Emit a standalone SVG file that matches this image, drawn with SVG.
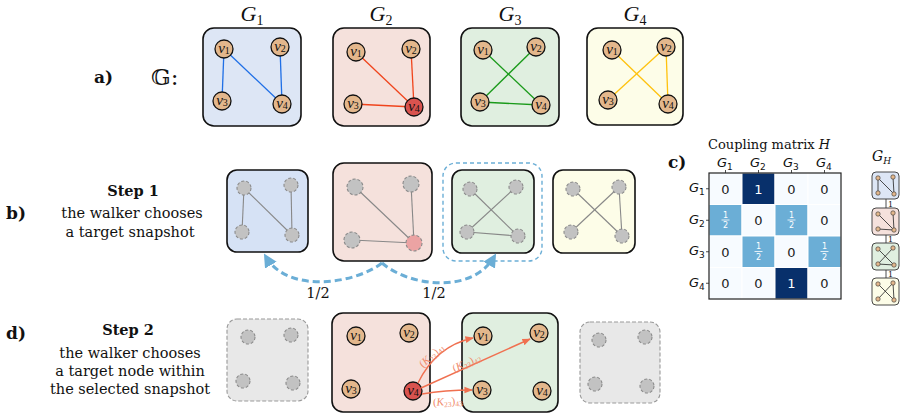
<svg xmlns="http://www.w3.org/2000/svg" width="907" height="419" viewBox="0 0 907 419">
<defs>
<style>
.bg{fill:#fff}
.box{stroke:#111;stroke-width:1.6}
.n{fill:#e3b78c;stroke:#111;stroke-width:1.3}
.n4{fill:#d9534f;stroke:#111;stroke-width:1.3}
.gn{fill:#c2c2c2;stroke:#8a8a8a;stroke-width:1.1;stroke-dasharray:3 2}
.gnp{fill:#eba3a3;stroke:#8a8a8a;stroke-width:1.1;stroke-dasharray:3 2}
.ge{stroke:#888;stroke-width:1.1}
.nl{font-family:"Liberation Serif","DejaVu Serif",serif;font-style:italic;font-size:15px;text-anchor:middle;fill:#111}
.sub{font-size:10px;font-style:normal}
.gl{font-family:"Liberation Serif","DejaVu Serif",serif;font-style:italic;font-size:22px;text-anchor:middle;fill:#111}
.gls{font-size:14px;font-style:normal}
.lab{font-family:"DejaVu Serif","Liberation Serif",serif;font-weight:bold;font-size:17px;fill:#111}
.tx{font-family:"DejaVu Serif","Liberation Serif",serif;font-size:14.5px;text-anchor:middle;fill:#111}
.txb{font-family:"DejaVu Serif","Liberation Serif",serif;font-size:14.5px;font-weight:bold;text-anchor:middle;fill:#111}
.arr{fill:none;stroke:#6baed6;stroke-width:3;stroke-dasharray:7 4}
.oa{fill:none;stroke:#f07050;stroke-width:1.4}
.ol{font-family:"Liberation Serif","DejaVu Serif",serif;font-size:11px;fill:#f08a6a;text-anchor:middle}
.mt{font-family:"DejaVu Sans",sans-serif;font-size:13px;text-anchor:middle;fill:#222}
.mw{font-family:"DejaVu Sans",sans-serif;font-size:13px;text-anchor:middle;fill:#fff}
.mf{font-family:"DejaVu Sans",sans-serif;font-size:8px;text-anchor:middle;fill:#fff}
.ml{font-family:"DejaVu Sans",sans-serif;font-style:italic;font-size:13px;fill:#111}
.mls{font-size:9px;font-style:normal}
.mn{fill:#e3b78c;stroke:#333;stroke-width:0.6}
.me{stroke:#222;stroke-width:0.8}
</style>
<marker id="ba" viewBox="0 0 10 10" refX="7" refY="5" markerWidth="4.5" markerHeight="4.5" orient="auto"><path d="M0,0 L10,5 L0,10 z" fill="#6baed6"/></marker>
<marker id="oa" viewBox="0 0 10 10" refX="9" refY="5" markerWidth="6" markerHeight="6" orient="auto" markerUnits="strokeWidth"><path d="M0,1 L10,5 L0,9 z" fill="#f07050"/></marker>
</defs>
<rect class="bg" x="0" y="0" width="907" height="419"/>

<!-- a) row -->
<text class="lab" x="94" y="83" font-size="18">a)</text>
<text x="151" y="85" font-family="DejaVu Serif,DejaVu Sans,serif" font-size="23" fill="#111">𝔾:</text>

<g id="G1">
<text class="gl" x="252" y="21">G<tspan class="gls" dy="4">1</tspan></text>
<rect class="box" x="203" y="28" width="98" height="98" rx="11" fill="#dde6f5"/>
<g stroke="#1f6fe6" stroke-width="1.3"><line x1="224" y1="49" x2="222" y2="101"/><line x1="224" y1="49" x2="282" y2="104"/><line x1="280" y1="47" x2="282" y2="104"/></g>
<circle class="n" cx="224" cy="49" r="9"/><circle class="n" cx="280" cy="47" r="9"/><circle class="n" cx="222" cy="101" r="9"/><circle class="n" cx="282" cy="104" r="9"/>
<text class="nl" x="224" y="53">v<tspan class="sub" dy="1">1</tspan></text><text class="nl" x="280" y="51">v<tspan class="sub" dy="1">2</tspan></text><text class="nl" x="222" y="105">v<tspan class="sub" dy="1">3</tspan></text><text class="nl" x="282" y="108">v<tspan class="sub" dy="1">4</tspan></text>
</g>

<g id="G2">
<text class="gl" x="381" y="21">G<tspan class="gls" dy="4">2</tspan></text>
<rect class="box" x="333" y="28" width="97" height="98" rx="11" fill="#f5e1dc"/>
<g stroke="#f0441c" stroke-width="1.3"><line x1="356" y1="52" x2="414" y2="107"/><line x1="411" y1="49" x2="414" y2="107"/><line x1="353" y1="104" x2="414" y2="107"/></g>
<circle class="n" cx="356" cy="52" r="9"/><circle class="n" cx="411" cy="49" r="9"/><circle class="n" cx="353" cy="104" r="9"/><circle class="n4" cx="414" cy="107" r="9"/>
<text class="nl" x="356" y="56">v<tspan class="sub" dy="1">1</tspan></text><text class="nl" x="411" y="53">v<tspan class="sub" dy="1">2</tspan></text><text class="nl" x="353" y="108">v<tspan class="sub" dy="1">3</tspan></text><text class="nl" x="414" y="111">v<tspan class="sub" dy="1">4</tspan></text>
</g>

<g id="G3">
<text class="gl" x="510" y="21">G<tspan class="gls" dy="4">3</tspan></text>
<rect class="box" x="461" y="28" width="98" height="98" rx="11" fill="#e0efe0"/>
<g stroke="#1a9a1a" stroke-width="1.3"><line x1="483" y1="50" x2="541" y2="105"/><line x1="536" y1="47" x2="480" y2="102"/><line x1="480" y1="102" x2="541" y2="105"/></g>
<circle class="n" cx="483" cy="50" r="9"/><circle class="n" cx="536" cy="47" r="9"/><circle class="n" cx="480" cy="102" r="9"/><circle class="n" cx="541" cy="105" r="9"/>
<text class="nl" x="483" y="54">v<tspan class="sub" dy="1">1</tspan></text><text class="nl" x="536" y="51">v<tspan class="sub" dy="1">2</tspan></text><text class="nl" x="480" y="106">v<tspan class="sub" dy="1">3</tspan></text><text class="nl" x="541" y="109">v<tspan class="sub" dy="1">4</tspan></text>
</g>

<g id="G4">
<text class="gl" x="635" y="21">G<tspan class="gls" dy="4">4</tspan></text>
<rect class="box" x="587" y="28" width="96" height="97" rx="11" fill="#fdfde8"/>
<g stroke="#ffc20e" stroke-width="1.3"><line x1="612" y1="50" x2="668" y2="104"/><line x1="666" y1="47" x2="608" y2="100"/><line x1="666" y1="47" x2="668" y2="104"/></g>
<circle class="n" cx="612" cy="50" r="9"/><circle class="n" cx="666" cy="47" r="9"/><circle class="n" cx="608" cy="100" r="9"/><circle class="n" cx="668" cy="104" r="9"/>
<text class="nl" x="612" y="54">v<tspan class="sub" dy="1">1</tspan></text><text class="nl" x="666" y="51">v<tspan class="sub" dy="1">2</tspan></text><text class="nl" x="608" y="104">v<tspan class="sub" dy="1">3</tspan></text><text class="nl" x="668" y="108">v<tspan class="sub" dy="1">4</tspan></text>
</g>

<!-- b) row -->
<text class="lab" x="6" y="219" font-size="19">b)</text>
<text class="txb" x="133" y="196">Step 1</text>
<text class="tx" x="132" y="218">the walker chooses</text>
<text class="tx" x="130" y="237">a target snapshot</text>

<g id="S1a">
<rect class="box" x="227" y="170" width="81" height="82" rx="10" fill="#d6e2f5" stroke-width="1.3"/>
<g class="ge"><line x1="244" y1="188" x2="242" y2="232"/><line x1="244" y1="188" x2="292" y2="235"/><line x1="291" y1="185" x2="292" y2="235"/></g>
<circle class="gn" cx="244" cy="188" r="7"/><circle class="gn" cx="291" cy="185" r="7"/><circle class="gn" cx="242" cy="232" r="7"/><circle class="gn" cx="292" cy="235" r="7"/>
</g>
<g id="S1b">
<rect class="box" x="333" y="163" width="99" height="98" rx="11" fill="#f5e1dc"/>
<g class="ge"><line x1="355" y1="187" x2="414" y2="243"/><line x1="411" y1="184" x2="414" y2="243"/><line x1="352" y1="240" x2="414" y2="243"/></g>
<circle class="gn" cx="355" cy="187" r="8"/><circle class="gn" cx="411" cy="184" r="8"/><circle class="gn" cx="352" cy="240" r="8"/><circle class="gnp" cx="414" cy="243" r="8"/>
</g>
<g id="S1c">
<rect x="443" y="163" width="99" height="98" rx="13" fill="none" stroke="#6baed6" stroke-width="1.4" stroke-dasharray="4 3"/>
<rect class="box" x="452" y="170" width="82" height="83" rx="10" fill="#e0efe0" stroke-width="1.3"/>
<g class="ge"><line x1="470" y1="189" x2="518" y2="236"/><line x1="516" y1="187" x2="467" y2="232"/><line x1="467" y1="232" x2="518" y2="236"/></g>
<circle class="gn" cx="470" cy="189" r="7"/><circle class="gn" cx="516" cy="187" r="7"/><circle class="gn" cx="467" cy="232" r="7"/><circle class="gn" cx="518" cy="236" r="7"/>
</g>
<g id="S1d">
<rect class="box" x="553" y="170" width="82" height="83" rx="10" fill="#fdfde8" stroke-width="1.3"/>
<g class="ge"><line x1="573" y1="189" x2="622" y2="236"/><line x1="619" y1="187" x2="571" y2="232"/><line x1="619" y1="187" x2="622" y2="236"/></g>
<circle class="gn" cx="573" cy="189" r="7"/><circle class="gn" cx="619" cy="187" r="7"/><circle class="gn" cx="571" cy="232" r="7"/><circle class="gn" cx="622" cy="236" r="7"/>
</g>

<!-- d) row -->
<text class="lab" x="6" y="339" font-size="19">d)</text>
<text class="txb" x="128" y="335">Step 2</text>
<text class="tx" x="130" y="358">the walker chooses</text>
<text class="tx" x="130" y="376">a target node within</text>
<text class="tx" x="130" y="394">the selected snapshot</text>

<g id="S2a">
<rect x="227" y="319" width="81" height="82" rx="10" fill="#e8e8e8" stroke="#999" stroke-width="1.1" stroke-dasharray="4 2"/>
<circle class="gn" cx="248" cy="337" r="7"/><circle class="gn" cx="291" cy="335" r="7"/><circle class="gn" cx="243" cy="381" r="7"/><circle class="gn" cx="293" cy="383" r="7"/>
</g>
<g id="S2b">
<rect class="box" x="332" y="313" width="98" height="99" rx="11" fill="#f5e1dc"/>
<circle class="n" cx="356" cy="336" r="9"/><circle class="n" cx="409" cy="333" r="9"/><circle class="n" cx="351" cy="389" r="9"/><circle class="n4" cx="413" cy="391" r="9"/>
<text class="nl" x="356" y="340">v<tspan class="sub" dy="1">1</tspan></text><text class="nl" x="409" y="337">v<tspan class="sub" dy="1">2</tspan></text><text class="nl" x="351" y="393">v<tspan class="sub" dy="1">3</tspan></text><text class="nl" x="413" y="395">v<tspan class="sub" dy="1">4</tspan></text>
</g>
<g id="S2c">
<rect class="box" x="462" y="313" width="96" height="99" rx="11" fill="#e0efe0"/>
<circle class="n" cx="483" cy="336" r="9"/><circle class="n" cx="539" cy="333" r="9"/><circle class="n" cx="482" cy="390" r="9"/><circle class="n" cx="542" cy="391" r="9"/>
<text class="nl" x="483" y="340">v<tspan class="sub" dy="1">1</tspan></text><text class="nl" x="539" y="337">v<tspan class="sub" dy="1">2</tspan></text><text class="nl" x="482" y="394">v<tspan class="sub" dy="1">3</tspan></text><text class="nl" x="542" y="395">v<tspan class="sub" dy="1">4</tspan></text>
</g>
<g id="S2d">
<rect x="580" y="322" width="80" height="81" rx="10" fill="#e8e8e8" stroke="#999" stroke-width="1.1" stroke-dasharray="4 2"/>
<circle class="gn" cx="599" cy="340" r="7"/><circle class="gn" cx="645" cy="337" r="7"/><circle class="gn" cx="595" cy="384" r="7"/><circle class="gn" cx="647" cy="386" r="7"/>
</g>

<g id="connectors">
<path class="arr" d="M382,263 C355,284 288,294 266,257" marker-end="url(#ba)"/>
<path class="arr" d="M382,263 C410,287 472,294 494,257" marker-end="url(#ba)"/>
<text class="tx" x="318" y="298">1/2</text>
<text class="tx" x="434" y="298">1/2</text>

<path class="oa" d="M418,383 Q436,346 473,338" marker-end="url(#oa)"/>
<path class="oa" d="M421,388 L530,339" marker-end="url(#oa)"/>
<path class="oa" d="M422,394 Q445,390 472,390" marker-end="url(#oa)"/>
<text class="ol" transform="translate(434,358) rotate(-42)">(<tspan font-style="italic">K</tspan><tspan font-size="7.5" dy="2">23</tspan><tspan dy="-2">)</tspan><tspan font-size="7.5" dy="2">41</tspan></text>
<text class="ol" transform="translate(468,366) rotate(-25)">(<tspan font-style="italic">K</tspan><tspan font-size="7.5" dy="2">23</tspan><tspan dy="-2">)</tspan><tspan font-size="7.5" dy="2">42</tspan></text>
<text class="ol" transform="translate(448,405) rotate(-4)">(<tspan font-style="italic">K</tspan><tspan font-size="7.5" dy="2">23</tspan><tspan dy="-2">)</tspan><tspan font-size="7.5" dy="2">43</tspan></text>
</g>

<!-- c) matrix -->
<g id="matrix">
<text class="lab" x="668" y="168" font-size="18">c)</text>
<text x="708" y="149" font-family="DejaVu Serif,serif" font-size="13" fill="#111">Coupling matrix <tspan font-style="italic">H</tspan></text>
<g fill="#f7fbff" stroke="#fff" stroke-width="1">
<rect x="709" y="173" width="33" height="31.5"/><rect x="742" y="173" width="33" height="31.5" fill="#08306b"/><rect x="775" y="173" width="33" height="31.5"/><rect x="808" y="173" width="33" height="31.5"/>
<rect x="709" y="204.5" width="33" height="31.5" fill="#6baed6"/><rect x="742" y="204.5" width="33" height="31.5"/><rect x="775" y="204.5" width="33" height="31.5" fill="#6baed6"/><rect x="808" y="204.5" width="33" height="31.5"/>
<rect x="709" y="236" width="33" height="31.5"/><rect x="742" y="236" width="33" height="31.5" fill="#6baed6"/><rect x="775" y="236" width="33" height="31.5"/><rect x="808" y="236" width="33" height="31.5" fill="#6baed6"/>
<rect x="709" y="267.5" width="33" height="31.5"/><rect x="742" y="267.5" width="33" height="31.5"/><rect x="775" y="267.5" width="33" height="31.5" fill="#08306b"/><rect x="808" y="267.5" width="33" height="31.5"/>
</g>
<rect x="709" y="173" width="132" height="126" fill="none" stroke="#222" stroke-width="1.2"/>
<g stroke="#222" stroke-width="0.8"><line x1="725.5" y1="170" x2="725.5" y2="173"/><line x1="758.5" y1="170" x2="758.5" y2="173"/><line x1="791.5" y1="170" x2="791.5" y2="173"/><line x1="824.5" y1="170" x2="824.5" y2="173"/>
<line x1="706" y1="188.75" x2="709" y2="188.75"/><line x1="706" y1="220.25" x2="709" y2="220.25"/><line x1="706" y1="251.75" x2="709" y2="251.75"/><line x1="706" y1="283.25" x2="709" y2="283.25"/></g>
<text class="ml" x="717" y="167">G<tspan class="mls" dy="3">1</tspan></text><text class="ml" x="750" y="167">G<tspan class="mls" dy="3">2</tspan></text><text class="ml" x="783" y="167">G<tspan class="mls" dy="3">3</tspan></text><text class="ml" x="816" y="167">G<tspan class="mls" dy="3">4</tspan></text>
<text class="ml" x="689" y="192">G<tspan class="mls" dy="3">1</tspan></text><text class="ml" x="689" y="224">G<tspan class="mls" dy="3">2</tspan></text><text class="ml" x="689" y="255">G<tspan class="mls" dy="3">3</tspan></text><text class="ml" x="689" y="287">G<tspan class="mls" dy="3">4</tspan></text>
<text class="mt" x="725.5" y="193.5">0</text><text class="mw" x="758.5" y="193.5">1</text><text class="mt" x="791.5" y="193.5">0</text><text class="mt" x="824.5" y="193.5">0</text>
<text class="mt" x="758.5" y="225">0</text><text class="mt" x="824.5" y="225">0</text>
<text class="mt" x="725.5" y="256.5">0</text><text class="mt" x="791.5" y="256.5">0</text>
<text class="mt" x="725.5" y="288">0</text><text class="mt" x="758.5" y="288">0</text><text class="mw" x="791.5" y="288">1</text><text class="mt" x="824.5" y="288">0</text>
<g class="mf">
<text x="725.5" y="217.5">1</text><line x1="721.5" y1="220" x2="729.5" y2="220" stroke="#fff" stroke-width="0.8"/><text x="725.5" y="228">2</text>
<text x="791.5" y="217.5">1</text><line x1="787.5" y1="220" x2="795.5" y2="220" stroke="#fff" stroke-width="0.8"/><text x="791.5" y="228">2</text>
<text x="758.5" y="249">1</text><line x1="754.5" y1="251.5" x2="762.5" y2="251.5" stroke="#fff" stroke-width="0.8"/><text x="758.5" y="259.5">2</text>
<text x="824.5" y="249">1</text><line x1="820.5" y1="251.5" x2="828.5" y2="251.5" stroke="#fff" stroke-width="0.8"/><text x="824.5" y="259.5">2</text>
</g>
</g>

<!-- G_H -->
<g id="GH">
<text x="872" y="161" font-family="DejaVu Serif,serif" font-style="italic" font-size="14" fill="#111">G<tspan font-size="9" dy="3">H</tspan></text>
<g class="me"><line x1="886" y1="199" x2="886" y2="208"/><line x1="886" y1="235" x2="886" y2="243"/><line x1="886" y1="270" x2="886" y2="278"/></g>
<g font-family="DejaVu Serif,serif" font-size="8" fill="#111"><text x="888" y="207">1</text><text x="888" y="242">1</text><text x="888" y="277">1</text></g>
<rect x="872" y="172" width="27" height="27" rx="4" fill="#dde6f5" stroke="#333" stroke-width="0.9"/>
<g class="me"><line x1="878" y1="178" x2="878" y2="193"/><line x1="878" y1="178" x2="894" y2="194"/><line x1="893" y1="177" x2="894" y2="194"/></g>
<circle class="mn" cx="878" cy="178" r="2.2"/><circle class="mn" cx="893" cy="177" r="2.2"/><circle class="mn" cx="878" cy="193" r="2.2"/><circle class="mn" cx="894" cy="194" r="2.2"/>
<rect x="872" y="208" width="27" height="27" rx="4" fill="#f5e1dc" stroke="#333" stroke-width="0.9"/>
<g class="me"><line x1="878" y1="214" x2="894" y2="230"/><line x1="893" y1="213" x2="894" y2="230"/><line x1="878" y1="229" x2="894" y2="230"/></g>
<circle class="mn" cx="878" cy="214" r="2.2"/><circle class="mn" cx="893" cy="213" r="2.2"/><circle class="mn" cx="878" cy="229" r="2.2"/><circle class="mn" cx="894" cy="230" r="2.2"/>
<rect x="872" y="243" width="27" height="27" rx="4" fill="#e0efe0" stroke="#333" stroke-width="0.9"/>
<g class="me"><line x1="878" y1="249" x2="894" y2="265"/><line x1="893" y1="248" x2="878" y2="264"/><line x1="878" y1="264" x2="894" y2="265"/></g>
<circle class="mn" cx="878" cy="249" r="2.2"/><circle class="mn" cx="893" cy="248" r="2.2"/><circle class="mn" cx="878" cy="264" r="2.2"/><circle class="mn" cx="894" cy="265" r="2.2"/>
<rect x="872" y="278" width="27" height="27" rx="4" fill="#fdfde8" stroke="#333" stroke-width="0.9"/>
<g class="me"><line x1="878" y1="284" x2="894" y2="300"/><line x1="893" y1="283" x2="878" y2="299"/><line x1="893" y1="283" x2="894" y2="300"/></g>
<circle class="mn" cx="878" cy="284" r="2.2"/><circle class="mn" cx="893" cy="283" r="2.2"/><circle class="mn" cx="878" cy="299" r="2.2"/><circle class="mn" cx="894" cy="300" r="2.2"/>
</g>
</svg>
